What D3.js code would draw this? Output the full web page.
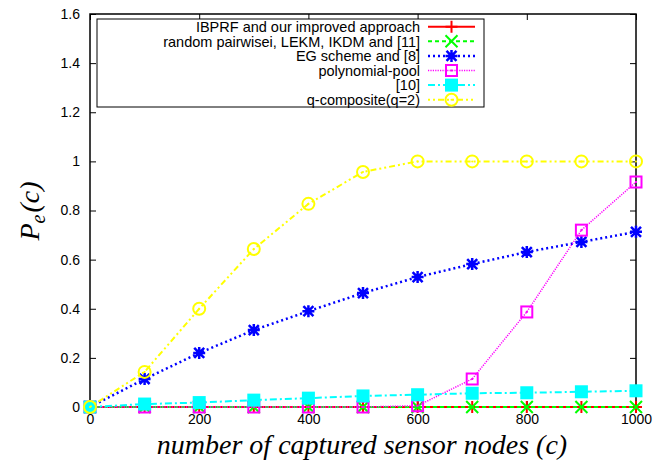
<!DOCTYPE html>
<html>
<head>
<meta charset="utf-8">
<script src="https://cdn.jsdelivr.net/npm/d3@7/dist/d3.min.js"></script>
<style>
  body { margin: 0; background: #fff; }
  svg { display: block; }
</style>
</head>
<body>
<div id="chart"></div>
<script>
const nodes = [0, 100, 200, 300, 400, 500, 600, 700, 800, 900, 1000];
const ibprf = [0, 0, 0, 0, 0, 0, 0, 0, 0, 0, 0];
const randomPairwise = [0, 0, 0, 0, 0, 0, 0, 0, 0, 0, 0];
const egScheme = [0, 0.114, 0.22, 0.313, 0.39, 0.464, 0.529, 0.582, 0.631, 0.672, 0.713];
const polyPool = [0, 0, 0, 0, 0, 0, 0.005, 0.114, 0.387, 0.72, 0.916];
const ref10 = [0, 0.012, 0.018, 0.028, 0.036, 0.045, 0.05, 0.056, 0.058, 0.062, 0.066];
const qComposite = [0, 0.143, 0.40, 0.643, 0.827, 0.957, 1, 1, 1, 1, 1];
const xTicks = [0, 200, 400, 600, 800, 1000];
const yTicks = [0, 0.2, 0.4, 0.6, 0.8, 1, 1.2, 1.4, 1.6];

const series = [
  { label: 'IBPRF and our improved approach', values: ibprf, color: '#ff0000', dash: null, width: 2, marker: 'plus' },
  { label: 'random pairwisei, LEKM, IKDM and [11]', values: randomPairwise, color: '#00ff00', dash: '4,3', width: 2, marker: 'cross' },
  { label: 'EG scheme and [8]', values: egScheme, color: '#0000ff', dash: '2,3', width: 2.5, marker: 'star' },
  { label: 'polynomial-pool', values: polyPool, color: '#ff00ff', dash: '1.2,1.2', width: 1.5, marker: 'box' },
  { label: '[10]', values: ref10, color: '#00ffff', dash: '7,3,2,3', width: 2, marker: 'fbox' },
  { label: 'q-composite(q=2)', values: qComposite, color: '#ffff00', dash: '2,3,2,3,6,3', width: 2, marker: 'circle' },
];

const width = 665, height = 461;
const m = { top: 14, right: 29, bottom: 54, left: 90 };
const iw = width - m.left - m.right;
const ih = height - m.top - m.bottom;

const svg = d3.select('#chart').append('svg').attr('width', width).attr('height', height);
const x = d3.scaleLinear().domain([0, 1000]).range([m.left, m.left + iw]);
const y = d3.scaleLinear().domain([0, 1.6]).range([m.top + ih, m.top]);
const font = '"Liberation Sans", Arial, sans-serif';
const serif = '"Liberation Serif", "Times New Roman", serif';

// ticks on all four sides, pointing inward
const tickLen = 6;
const gx = svg.append('g').attr('transform', `translate(0,${m.top + ih})`)
  .call(d3.axisBottom(x).tickValues(xTicks).tickSizeInner(-tickLen).tickSizeOuter(0).tickPadding(7).tickFormat(d3.format('d')));
const gxt = svg.append('g').attr('transform', `translate(0,${m.top})`)
  .call(d3.axisTop(x).tickValues(xTicks).tickSizeInner(-tickLen).tickSizeOuter(0).tickFormat(''));
const gy = svg.append('g').attr('transform', `translate(${m.left},0)`)
  .call(d3.axisLeft(y).tickValues(yTicks).tickSizeInner(-tickLen).tickSizeOuter(0).tickPadding(10).tickFormat(d => d3.format('')(+d.toFixed(1))));
const gyr = svg.append('g').attr('transform', `translate(${m.left + iw},0)`)
  .call(d3.axisRight(y).tickValues(yTicks).tickSizeInner(-tickLen).tickSizeOuter(0).tickFormat(''));
[gx, gxt, gy, gyr].forEach(g => {
  g.select('.domain').remove();
  g.selectAll('.tick line').attr('stroke', '#000').attr('stroke-width', 1);
  g.selectAll('.tick text').attr('fill', '#000').attr('font-size', 14).attr('font-family', font);
});

svg.append('rect').attr('x', m.left).attr('y', m.top).attr('width', iw).attr('height', ih)
  .attr('fill', 'none').attr('stroke', '#000').attr('stroke-width', 1.5);

// axis titles
svg.append('text').attr('x', 362).attr('y', 454).attr('text-anchor', 'middle')
  .attr('font-family', serif).attr('font-style', 'italic')
  .attr('font-size', 28).text('number of captured sensor nodes (c)');

const yl = svg.append('text').attr('transform', 'translate(39,211) rotate(-90)').attr('text-anchor', 'middle')
  .attr('font-family', serif).attr('font-style', 'italic').attr('font-size', 28);
yl.append('tspan').text('P');
yl.append('tspan').attr('font-size', 20).attr('dy', 6).text('e');
yl.append('tspan').attr('dy', -6).attr('dx', 2).text('(c)');

function drawMarker(g, cx, cy, s) {
  const c = s.color, r = 6;
  if (s.marker === 'plus') {
    g.append('path').attr('d', `M${cx - r},${cy}H${cx + r}M${cx},${cy - r}V${cy + r}`).attr('stroke', c).attr('stroke-width', 2);
  } else if (s.marker === 'cross') {
    g.append('path').attr('d', `M${cx - r},${cy - r}L${cx + r},${cy + r}M${cx - r},${cy + r}L${cx + r},${cy - r}`).attr('stroke', c).attr('stroke-width', 2);
  } else if (s.marker === 'star') {
    const q = 5;
    g.append('path').attr('d', `M${cx - q},${cy - q}L${cx + q},${cy + q}M${cx - q},${cy + q}L${cx + q},${cy - q}M${cx - r},${cy}H${cx + r}M${cx},${cy - r}V${cy + r}`).attr('stroke', c).attr('stroke-width', 2.5);
  } else if (s.marker === 'box') {
    g.append('rect').attr('x', cx - 5.5).attr('y', cy - 5.5).attr('width', 11).attr('height', 11).attr('fill', 'none').attr('stroke', c).attr('stroke-width', 2);
    g.append('rect').attr('x', cx - 1).attr('y', cy - 1).attr('width', 2).attr('height', 2).attr('fill', c);
  } else if (s.marker === 'fbox') {
    g.append('rect').attr('x', cx - 6.5).attr('y', cy - 6.5).attr('width', 13).attr('height', 13).attr('fill', c);
  } else if (s.marker === 'circle') {
    g.append('circle').attr('cx', cx).attr('cy', cy).attr('r', 6).attr('fill', 'none').attr('stroke', c).attr('stroke-width', 2);
    g.append('circle').attr('cx', cx).attr('cy', cy).attr('r', 1).attr('fill', c);
  }
}

const line = d3.line().x((d, i) => x(nodes[i])).y(d => y(d));
series.forEach(s => {
  const g = svg.append('g');
  g.append('path').datum(s.values).attr('d', line).attr('fill', 'none')
    .attr('stroke', s.color).attr('stroke-width', s.width).attr('stroke-dasharray', s.dash);
  s.values.forEach((v, i) => drawMarker(g, x(nodes[i]), y(v), s));
});

// legend
const lx = 97, ly = 19, lw = 387, lh = 88, rowH = 14.6;
const leg = svg.append('g');
leg.append('rect').attr('x', lx).attr('y', ly).attr('width', lw).attr('height', lh)
  .attr('fill', '#fff').attr('stroke', '#000').attr('stroke-width', 1);
series.forEach((s, i) => {
  const ry = ly + 7.7 + i * rowH;
  leg.append('text').attr('x', 420).attr('y', ry + 5.2).attr('text-anchor', 'end')
    .attr('font-family', font).attr('font-size', 14.5).text(s.label);
  leg.append('line').attr('x1', 428).attr('x2', 475).attr('y1', ry).attr('y2', ry)
    .attr('stroke', s.color).attr('stroke-width', s.width).attr('stroke-dasharray', s.dash);
  drawMarker(leg, 451.5, ry, s);
});
</script>
</body>
</html>
